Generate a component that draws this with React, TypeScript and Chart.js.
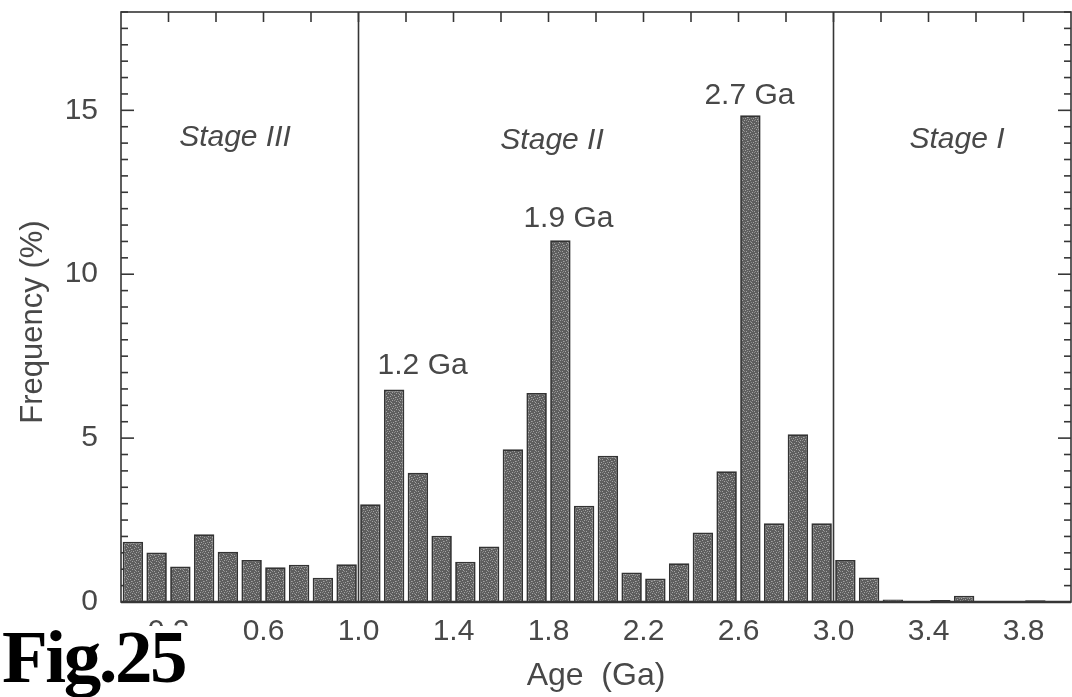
import React, { useEffect, useRef } from "react";
import { Chart, registerables } from "chart.js";

Chart.register(...registerables);

// Age bins (bin centres, Ga) and frequency (%)
const binCenters = [
  0.05, 0.15, 0.25, 0.35, 0.45, 0.55, 0.65, 0.75, 0.85, 0.95,
  1.05, 1.15, 1.25, 1.35, 1.45, 1.55, 1.65, 1.75, 1.85, 1.95,
  2.05, 2.15, 2.25, 2.35, 2.45, 2.55, 2.65, 2.75, 2.85, 2.95,
  3.05, 3.15, 3.25, 3.35, 3.45, 3.55, 3.65, 3.75, 3.85, 3.95,
];
const frequency = [
  1.84, 1.51, 1.08, 2.07, 1.53, 1.28, 1.06, 1.14, 0.74, 1.15,
  2.98, 6.48, 3.94, 2.02, 1.23, 1.69, 4.66, 6.38, 11.04, 2.94,
  4.46, 0.9, 0.72, 1.18, 2.12, 3.99, 14.85, 2.4, 5.12, 2.4,
  1.28, 0.75, 0.08, 0.02, 0.06, 0.19, 0, 0, 0.05, 0,
];

const xLabeledTicks = [0.2, 0.6, 1.0, 1.4, 1.8, 2.2, 2.6, 3.0, 3.4, 3.8];
const yLabeledTicks = [0, 5, 10, 15];
const stageBoundaries = [1.0, 3.0];

const peakLabels = ["1.2 Ga", "1.9 Ga", "2.7 Ga"];
const peakLabelX = [1.27, 1.884, 2.646];
const peakLabelY = [7.22, 11.7, 15.44];

const stageLabels = ["Stage III", "Stage II", "Stage I"];
const stageLabelX = [0.48, 1.815, 3.52];
const stageLabelY = [14.16, 14.07, 14.1];

const TEXT = "#484848";
const LINE = "#363636";
const FONT = "'Liberation Sans', Arial, sans-serif";

function makePattern(): CanvasPattern | string {
  const c = document.createElement("canvas");
  c.width = 8;
  c.height = 8;
  const g = c.getContext("2d");
  if (!g) return "#666666";
  g.fillStyle = "#5e5e5e";
  g.fillRect(0, 0, 8, 8);
  g.fillStyle = "#a4a4a4";
  const pts = [[0, 0], [4, 1], [2, 3], [6, 4], [1, 6], [5, 7], [3, 5], [7, 2]];
  pts.forEach(([a, b]) => g.fillRect(a, b, 1, 1));
  g.fillStyle = "#8a8a8a";
  const md = [[2, 0], [6, 1], [0, 3], [4, 5], [7, 6], [3, 7]];
  md.forEach(([a, b]) => g.fillRect(a, b, 1, 1));
  const p = g.createPattern(c, "repeat");
  return p || "#666666";
}

const decorPlugin = {
  id: "decor",
  beforeDatasetsDraw(chart: any) {
    const { ctx, chartArea: a, scales } = chart;
    const x = scales.x;
    const y = scales.y;
    ctx.save();
    ctx.strokeStyle = LINE;
    ctx.lineWidth = 1.6;
    const line = (x1: number, y1: number, x2: number, y2: number) => {
      ctx.beginPath();
      ctx.moveTo(x1, y1);
      ctx.lineTo(x2, y2);
      ctx.stroke();
    };
    y.ticks.forEach((t: any) => {
      const py = y.getPixelForValue(t.value);
      const major = Math.abs(t.value / 5 - Math.round(t.value / 5)) < 1e-6;
      const len = major ? 13 : 7;
      line(a.left, py, a.left + len, py);
      line(a.right, py, a.right - len, py);
    });
    x.ticks.forEach((t: any) => {
      if (t.value <= 0 || t.value >= 4) return;
      const px = x.getPixelForValue(t.value);
      line(px, a.top, px, a.top + 10);
    });
    stageBoundaries.forEach((b) => {
      const px = x.getPixelForValue(b);
      line(px, a.top, px, a.bottom);
    });
    ctx.strokeRect(a.left, a.top, a.right - a.left, a.bottom - a.top);
    ctx.restore();
  },
  afterDatasetsDraw(chart: any) {
    const { ctx, chartArea: a, scales } = chart;
    const x = scales.x;
    const y = scales.y;
    ctx.save();
    ctx.strokeStyle = LINE;
    ctx.lineWidth = 2.5;
    ctx.beginPath();
    ctx.moveTo(a.left, a.bottom);
    ctx.lineTo(a.right, a.bottom);
    ctx.stroke();

    ctx.fillStyle = TEXT;
    ctx.textAlign = "center";
    ctx.textBaseline = "middle";
    ctx.font = `30px ${FONT}`;
    peakLabels.forEach((s, i) => {
      ctx.fillText(s, x.getPixelForValue(peakLabelX[i]), y.getPixelForValue(peakLabelY[i]));
    });
    ctx.font = `italic 30px ${FONT}`;
    stageLabels.forEach((s, i) => {
      ctx.fillText(s, x.getPixelForValue(stageLabelX[i]), y.getPixelForValue(stageLabelY[i]));
    });

    // y-axis title
    ctx.save();
    ctx.translate(33, (a.top + a.bottom) / 2 + 15);
    ctx.rotate(-Math.PI / 2);
    ctx.font = `31px ${FONT}`;
    ctx.fillText("Frequency (%)", 0, 0);
    ctx.restore();
    ctx.restore();
  },
};

export default function App() {
  const ref = useRef<HTMLCanvasElement | null>(null);

  useEffect(() => {
    if (!ref.current) return;
    const pattern = makePattern();
    const chart = new Chart(ref.current, {
      type: "bar",
      data: {
        datasets: [
          {
            label: "Frequency",
            data: binCenters.map((c, i) => ({ x: c, y: frequency[i] })),
            backgroundColor: pattern as any,
            borderColor: "#333333",
            borderWidth: 1.8,
            barPercentage: 0.86,
            categoryPercentage: 1,
          },
        ],
      },
      options: {
        responsive: false,
        animation: false,
        layout: { padding: { top: 12, right: 1, left: 0, bottom: 0 } },
        plugins: {
          legend: { display: false },
          tooltip: { enabled: false },
          title: { display: false },
        },
        scales: {
          x: {
            type: "linear",
            min: 0,
            max: 4,
            offset: false,
            grid: { display: false, drawTicks: false },
            border: { display: false },
            ticks: {
              stepSize: 0.2,
              autoSkip: false,
              maxRotation: 0,
              minRotation: 0,
              padding: 12,
              color: TEXT,
              font: { family: FONT, size: 30 },
              callback: (v: any) => {
                const n = Number(v);
                return xLabeledTicks.some((l) => Math.abs(l - n) < 1e-6) ? n.toFixed(1) : "";
              },
            },
            title: {
              display: true,
              text: "Age  (Ga)",
              color: TEXT,
              font: { family: FONT, size: 32 },
              padding: { top: 0, bottom: 2 },
            },
            afterFit: (s: any) => {
              s.height = 95;
              s.paddingLeft = 0;
              s.paddingRight = 0;
            },
          },
          y: {
            min: 0,
            max: 18,
            grid: { display: false, drawTicks: false },
            border: { display: false },
            ticks: {
              stepSize: 0.5,
              autoSkip: false,
              padding: 23,
              color: TEXT,
              font: { family: FONT, size: 30 },
              callback: (v: any) => {
                const n = Number(v);
                return yLabeledTicks.some((l) => Math.abs(l - n) < 1e-6) ? String(n) : "";
              },
            },
            afterFit: (s: any) => {
              s.width = 121;
              s.paddingTop = 0;
              s.paddingBottom = 0;
            },
          },
        },
      },
      plugins: [decorPlugin],
    });
    return () => chart.destroy();
  }, []);

  return (
    <div
      style={{
        position: "fixed",
        left: 0,
        top: 0,
        width: 1072,
        height: 697,
        background: "#ffffff",
        overflow: "hidden",
      }}
    >
      <canvas ref={ref} width={1072} height={697} style={{ display: "block" }} />
      <div
        style={{
          position: "absolute",
          left: 2,
          top: 626,
          height: 66,
          lineHeight: "61px",
          fontFamily: "'Liberation Serif', 'Times New Roman', serif",
          fontWeight: "bold",
          fontSize: 75,
          letterSpacing: "-2.5px",
          background: "#ffffff",
          color: "#000000",
          whiteSpace: "nowrap",
          paddingRight: 4,
        }}
      >
        Fig.25
      </div>
    </div>
  );
}
